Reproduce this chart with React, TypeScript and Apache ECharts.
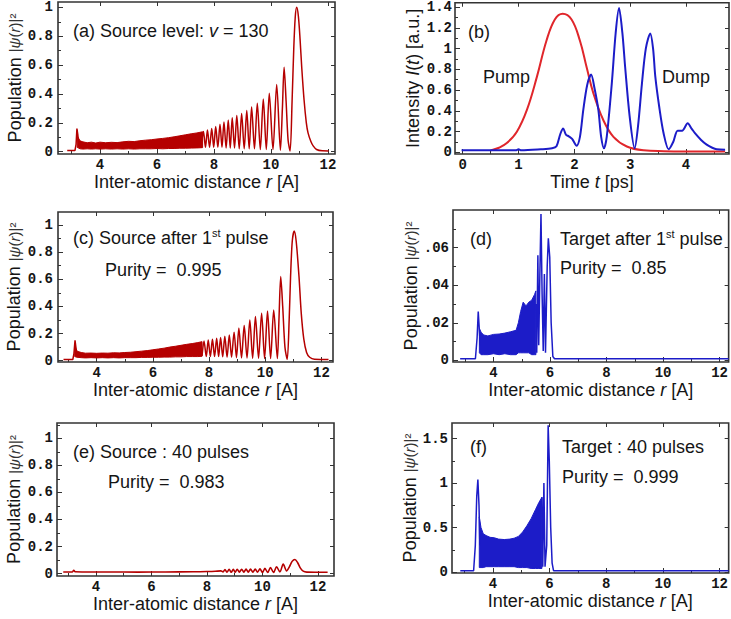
import React, { useEffect, useRef } from "react";
import * as echarts from "echarts";

// ---------- tick labels ----------
const R_TICKS = [4, 6, 8, 10, 12];
const POP_TICKS = [0, 0.2, 0.4, 0.6, 0.8, 1];
const B_X_TICKS = [0, 1, 2, 3, 4];
const B_Y_TICKS = [0, 0.2, 0.4, 0.6, 0.8, 1, 1.2, 1.4];
const D_Y_TICKS = [0, 0.02, 0.04, 0.06];
const F_Y_TICKS = [0, 0.5, 1, 1.5];

// ---------- (a) source level v = 130 ----------
const A_EDGE = [[2.85, 0.008], [3.12, 0.008], [3.16, 0.05], [3.19, 0.16], [3.22, 0.12], [3.25, 0.06], [3.3, 0.05]];
// [r, lower envelope, upper envelope] of the unresolved fast oscillation
const A_BAND = [
  [3.2, 0.03, 0.11], [3.3, 0.02, 0.075], [3.4, 0.018, 0.068], [3.55, 0.02, 0.062], [3.7, 0.018, 0.066],
  [3.85, 0.02, 0.06], [4.0, 0.018, 0.066], [4.2, 0.02, 0.062], [4.4, 0.018, 0.065], [4.6, 0.02, 0.063],
  [4.8, 0.018, 0.068], [5.0, 0.02, 0.072], [5.2, 0.018, 0.07], [5.4, 0.02, 0.076], [5.6, 0.02, 0.08],
  [5.8, 0.02, 0.083], [6.0, 0.022, 0.088], [6.2, 0.02, 0.092], [6.4, 0.022, 0.097], [6.6, 0.022, 0.103],
  [6.8, 0.024, 0.11], [7.0, 0.024, 0.117], [7.2, 0.025, 0.124], [7.4, 0.026, 0.13], [7.6, 0.028, 0.138],
];
const A_OSC = [
  [7.55, 0.03], [7.63, 0.14], [7.7, 0.03], [7.77, 0.15], [7.845, 0.03], [7.92, 0.16], [7.99, 0.03], [8.06, 0.175],
  [8.135, 0.03], [8.21, 0.19], [8.28, 0.03], [8.35, 0.205], [8.425, 0.025], [8.5, 0.22], [8.57, 0.025], [8.64, 0.235],
  [8.72, 0.025], [8.8, 0.25], [8.885, 0.02], [8.97, 0.265], [9.06, 0.02], [9.15, 0.285], [9.235, 0.02], [9.32, 0.31],
  [9.42, 0.02], [9.52, 0.335], [9.625, 0.015], [9.73, 0.365], [9.835, 0.015], [9.94, 0.405], [10.07, 0.015],
  [10.2, 0.465], [10.33, 0.01], [10.4, 0.3], [10.46, 0.585], [10.53, 0.35], [10.6, 0.08], [10.67, 0.005],
  [10.74, 0.35], [10.8, 0.72], [10.85, 0.93], [10.9, 1.0], [10.96, 0.94], [11.02, 0.78], [11.08, 0.58],
  [11.16, 0.36], [11.24, 0.2], [11.3, 0.13], [11.4, 0.07], [11.48, 0.04], [11.6, 0.015], [11.8, 0.006], [12.02, 0.005],
];

// ---------- (b) pulses ----------
const PUMP = [
  [0.5, 0.02], [0.65, 0.045], [0.79, 0.09], [0.97, 0.2], [1.15, 0.41], [1.33, 0.73], [1.5, 1.075], [1.65, 1.28],
  [1.79, 1.335], [1.95, 1.28], [2.1, 1.075], [2.22, 0.82], [2.34, 0.57], [2.52, 0.31], [2.7, 0.15], [2.94, 0.057],
  [3.24, 0.02], [3.6, 0.012], [4.0, 0.01], [4.7, 0.01],
];
const DUMP = [
  [-0.02, 0.02], [0.5, 0.02], [0.95, 0.02], [1.0, 0.03], [1.05, 0.02], [1.4, 0.03], [1.6, 0.04], [1.68, 0.06],
  [1.75, 0.18], [1.8, 0.23], [1.85, 0.17], [1.9, 0.155], [1.96, 0.13], [2.04, 0.064], [2.1, 0.15], [2.16, 0.41],
  [2.23, 0.65], [2.3, 0.75], [2.36, 0.62], [2.43, 0.41], [2.48, 0.15], [2.53, 0.04], [2.58, 0.15], [2.67, 0.66],
  [2.74, 1.15], [2.8, 1.39], [2.86, 1.15], [2.91, 0.82], [2.99, 0.35], [3.08, 0.04], [3.14, 0.25], [3.21, 0.66],
  [3.28, 1.0], [3.36, 1.145], [3.41, 1.0], [3.45, 0.73], [3.52, 0.44], [3.6, 0.18], [3.69, 0.03], [3.77, 0.1],
  [3.85, 0.21], [3.93, 0.21], [4.03, 0.28], [4.1, 0.23], [4.16, 0.185], [4.27, 0.12], [4.37, 0.075], [4.47, 0.045],
  [4.55, 0.03], [4.7, 0.025],
];

// ---------- (c) source after 1st pulse ----------
const C_EDGE = [[2.82, 0.008], [3.15, 0.008], [3.19, 0.05], [3.23, 0.15], [3.26, 0.1], [3.3, 0.05]];
const C_BAND = [
  [3.22, 0.03, 0.1], [3.3, 0.025, 0.07], [3.45, 0.022, 0.06], [3.6, 0.02, 0.055], [3.8, 0.022, 0.056],
  [4.0, 0.02, 0.054], [4.2, 0.022, 0.056], [4.4, 0.02, 0.055], [4.6, 0.022, 0.058], [4.8, 0.02, 0.057],
  [5.0, 0.022, 0.06], [5.2, 0.022, 0.062], [5.4, 0.022, 0.066], [5.6, 0.024, 0.07], [5.8, 0.024, 0.074],
  [6.0, 0.025, 0.08], [6.2, 0.025, 0.086], [6.4, 0.026, 0.092], [6.6, 0.026, 0.1], [6.8, 0.028, 0.106],
  [7.0, 0.028, 0.113], [7.2, 0.03, 0.12], [7.4, 0.03, 0.126], [7.6, 0.03, 0.133], [7.75, 0.032, 0.14],
];
const C_OSC = [
  [7.75, 0.035], [7.82, 0.145], [7.9, 0.03], [7.97, 0.152], [8.045, 0.03], [8.12, 0.157], [8.195, 0.03], [8.27, 0.165],
  [8.34, 0.03], [8.41, 0.17], [8.485, 0.028], [8.56, 0.18], [8.64, 0.025], [8.72, 0.19], [8.8, 0.025], [8.89, 0.21],
  [8.975, 0.022], [9.06, 0.24], [9.155, 0.02], [9.25, 0.26], [9.35, 0.02], [9.45, 0.3], [9.55, 0.018], [9.65, 0.325],
  [9.76, 0.018], [9.87, 0.35], [9.975, 0.015], [10.08, 0.366], [10.19, 0.015], [10.3, 0.373], [10.43, 0.015],
  [10.49, 0.32], [10.55, 0.62], [10.62, 0.4], [10.7, 0.1], [10.78, 0.01], [10.85, 0.3], [10.9, 0.62], [10.96, 0.88],
  [11.03, 0.955], [11.1, 0.88], [11.2, 0.62], [11.28, 0.35], [11.37, 0.16], [11.47, 0.06], [11.58, 0.025],
  [11.75, 0.01], [12.25, 0.008],
];

// ---------- (d) target after 1st pulse ----------
const D_EDGE = [[2.82, 0.0008], [3.36, 0.0008], [3.42, 0.012], [3.46, 0.026], [3.5, 0.016], [3.53, 0.008]];
const D_BAND = [
  [3.5, 0.004, 0.017], [3.56, 0.003, 0.015], [3.65, 0.003, 0.0135], [3.8, 0.003, 0.013], [4.0, 0.0035, 0.0138],
  [4.2, 0.003, 0.014], [4.4, 0.0035, 0.0145], [4.6, 0.003, 0.0152], [4.8, 0.003, 0.016], [4.88, 0.004, 0.02],
  [4.96, 0.004, 0.026], [5.05, 0.004, 0.031], [5.15, 0.004, 0.029], [5.25, 0.004, 0.031], [5.35, 0.003, 0.032],
  [5.45, 0.003, 0.035], [5.5, 0.003, 0.037],
];
const D_SPIKES = [
  [5.5, 0.03], [5.53, 0.004], [5.57, 0.056], [5.6, 0.008], [5.64, 0.045], [5.68, 0.078], [5.72, 0.035],
  [5.76, 0.005], [5.8, 0.046], [5.84, 0.004], [5.9, 0.05], [5.94, 0.065], [5.99, 0.055], [6.04, 0.02],
  [6.1, 0.002], [6.16, 0.0008], [12.32, 0.0008],
];

// ---------- (e) source after 40 pulses ----------
const E_LINE = [
  [2.82, 0.012], [3.15, 0.012], [3.2, 0.025], [3.25, 0.013], [3.5, 0.012], [4.5, 0.012], [5.5, 0.011], [6.5, 0.012],
  [7.5, 0.013], [8.0, 0.015], [8.3, 0.017], [8.5, 0.02], [8.58, 0.012], [8.65, 0.03], [8.72, 0.01], [8.8, 0.031],
  [8.875, 0.01], [8.95, 0.031], [9.02, 0.01], [9.09, 0.032], [9.17, 0.01], [9.25, 0.032], [9.33, 0.01], [9.41, 0.033],
  [9.49, 0.01], [9.57, 0.033], [9.655, 0.01], [9.74, 0.034], [9.825, 0.01], [9.91, 0.035], [10.0, 0.008],
  [10.09, 0.038], [10.19, 0.008], [10.29, 0.045], [10.4, 0.008], [10.51, 0.05], [10.63, 0.012], [10.75, 0.07],
  [10.87, 0.02], [10.97, 0.05], [11.07, 0.09], [11.17, 0.104], [11.27, 0.08], [11.37, 0.04], [11.47, 0.018],
  [11.6, 0.011], [11.9, 0.01], [12.35, 0.01],
];

// ---------- (f) target after 40 pulses ----------
const F_EDGE = [[2.85, 0.015], [3.32, 0.015], [3.38, 0.3], [3.43, 0.85], [3.47, 1.04], [3.51, 0.75], [3.54, 0.3]];
const F_BAND = [
  [3.52, 0.05, 0.62], [3.58, 0.05, 0.5], [3.66, 0.05, 0.43], [3.76, 0.06, 0.41], [3.9, 0.06, 0.39],
  [4.05, 0.06, 0.385], [4.2, 0.06, 0.37], [4.4, 0.06, 0.365], [4.6, 0.06, 0.37], [4.75, 0.06, 0.38],
  [4.9, 0.05, 0.4], [5.05, 0.05, 0.45], [5.2, 0.05, 0.52], [5.35, 0.04, 0.6], [5.5, 0.04, 0.7],
  [5.62, 0.04, 0.78], [5.73, 0.04, 0.84],
];
const F_SPIKES = [
  [5.73, 0.84], [5.76, 0.06], [5.8, 1.0], [5.84, 0.06], [5.9, 0.3], [5.95, 1.65], [5.99, 1.25], [6.04, 0.5],
  [6.09, 0.1], [6.14, 0.015], [12.32, 0.015],
];

// ---------- styles ----------
const SANS = '"Liberation Sans", Arial, Helvetica, sans-serif';
const MONO = '"Liberation Mono", "Courier New", monospace';
const INK = "#151515";
const FRAME = "#333333";
const DARK_RED = "#b50000";
const PUMP_RED = "#e0262b";
const BLUE = "#1c1cc8";

const R_NAME = "Inter-atomic distance {i|r} [A]";
const POP_NAME = "Population {s|\u007C}{si|\u03C8}{s|(}{si|r}{s|)\u007C\u00B2}";

const nameStyle = {
  fontSize: 18,
  fontFamily: SANS,
  color: INK,
  rich: {
    i: { fontSize: 18, fontFamily: SANS, fontStyle: "italic", color: INK },
    s: { fontSize: 15, fontFamily: SANS, color: "#333" },
    si: { fontSize: 15, fontFamily: SANS, fontStyle: "italic", color: "#333" },
  },
};

function minorOf(ticks: number[], min: number, max: number) {
  const step = (ticks[1] - ticks[0]) / 2;
  const out: number[] = [];
  const all = [ticks[0] - (ticks[1] - ticks[0]), ...ticks, ticks[ticks.length - 1] + (ticks[1] - ticks[0])];
  for (let i = 0; i < all.length - 1; i++) {
    const v = all[i] + step;
    if (v > min && v < max) out.push(v);
  }
  return out;
}

type PanelCfg = {
  left: number; top: number; width: number; height: number;
  xMin: number; xMax: number; yMin: number; yMax: number;
  xTicks: number[]; yTicks: number[];
  xName: string; yName: string; xGap: number; yGap: number;
  yLabelMargin: number;
  yFmt?: (v: number) => string;
};

function axesFor(gi: number, p: PanelCfg) {
  const baseX = {
    gridIndex: gi, type: "value", min: p.xMin, max: p.xMax,
    splitLine: { show: false }, axisLine: { show: false, onZero: false },
  };
  const baseY = {
    gridIndex: gi, type: "value", min: p.yMin, max: p.yMax,
    splitLine: { show: false }, axisLine: { show: false, onZero: false },
  };
  const tick = (vals: number[], len: number) => ({
    show: true, inside: true, length: len, customValues: vals, lineStyle: { color: FRAME, width: 1 },
  });
  const lab = {
    fontFamily: MONO, fontWeight: "bold", fontSize: 14, color: INK,
  };
  const xAxes = [
    {
      ...baseX, position: "bottom",
      axisTick: tick(p.xTicks, 5),
      axisLabel: { ...lab, show: true, customValues: p.xTicks, margin: 4 },
      name: p.xName, nameLocation: "middle", nameGap: p.xGap, nameTextStyle: nameStyle,
    },
    { ...baseX, position: "bottom", axisTick: tick(minorOf(p.xTicks, p.xMin, p.xMax), 3), axisLabel: { show: false } },
    { ...baseX, position: "top", axisTick: tick(p.xTicks, 4), axisLabel: { show: false } },
  ];
  const yAxes = [
    {
      ...baseY, position: "left",
      axisTick: tick(p.yTicks, 5),
      axisLabel: {
        ...lab, show: true, customValues: p.yTicks, margin: p.yLabelMargin,
        formatter: p.yFmt ? p.yFmt : (v: number) => String(v),
      },
      name: p.yName, nameLocation: "middle", nameGap: p.yGap, nameTextStyle: nameStyle,
    },
    { ...baseY, position: "left", axisTick: tick(minorOf(p.yTicks, p.yMin, p.yMax), 3), axisLabel: { show: false } },
    { ...baseY, position: "right", axisTick: tick(p.yTicks, 4), axisLabel: { show: false } },
  ];
  return { xAxes, yAxes };
}

function lineSeries(gi: number, data: number[][], color: string, width: number, smooth: number | boolean) {
  return {
    type: "line", xAxisIndex: gi * 3, yAxisIndex: gi * 3, data,
    showSymbol: false, symbol: "none", smooth,
    lineStyle: { color, width }, z: 3,
  };
}

function bandSeries(gi: number, rows: number[][], color: string) {
  return {
    type: "custom", coordinateSystem: "cartesian2d", xAxisIndex: gi * 3, yAxisIndex: gi * 3,
    data: rows, encode: { x: 0, y: [1, 2] }, z: 2,
    renderItem: (params: any, api: any) => {
      if (params.dataIndex !== 0) return null;
      const top = rows.map((r) => api.coord([r[0], r[2]]));
      const bot = rows.slice().reverse().map((r) => api.coord([r[0], r[1]]));
      return {
        type: "polygon",
        shape: { points: top.concat(bot) },
        style: { fill: color, stroke: color, lineWidth: 1 },
      };
    },
  };
}

const PANELS: PanelCfg[] = [
  { // (a)
    left: 58, top: 2, width: 277, height: 152, xMin: 2.526, xMax: 12.246, yMin: -0.016, yMax: 1.037,
    xTicks: R_TICKS, yTicks: POP_TICKS, xName: R_NAME, yName: POP_NAME, xGap: 15, yGap: 34, yLabelMargin: 5,
  },
  { // (b)
    left: 455, top: 2, width: 274, height: 152, xMin: -0.138, xMax: 4.77, yMin: -0.015, yMax: 1.441,
    xTicks: B_X_TICKS, yTicks: B_Y_TICKS, xName: "Time {i|t} [ps]", yName: "Intensity {i|I}({i|t}) [a.u.]",
    xGap: 15, yGap: 33, yLabelMargin: 3,
  },
  { // (c)
    left: 58, top: 212, width: 275, height: 150, xMin: 2.624, xMax: 12.41, yMin: -0.01, yMax: 1.096,
    xTicks: R_TICKS, yTicks: POP_TICKS, xName: R_NAME, yName: POP_NAME, xGap: 16, yGap: 35, yLabelMargin: 5,
  },
  { // (d)
    left: 453, top: 210, width: 276, height: 152, xMin: 2.567, xMax: 12.32, yMin: -0.0009, yMax: 0.0801,
    xTicks: R_TICKS, yTicks: D_Y_TICKS, xName: R_NAME, yName: POP_NAME, xGap: 17, yGap: 33, yLabelMargin: 4,
    yFmt: (v: number) => (v === 0 ? "0" : String(v).replace(/^0/, "")),
  },
  { // (e)
    left: 57, top: 423, width: 277, height: 153, xMin: 2.595, xMax: 12.58, yMin: -0.018, yMax: 1.113,
    xTicks: R_TICKS, yTicks: POP_TICKS, xName: R_NAME, yName: POP_NAME, xGap: 17, yGap: 34, yLabelMargin: 4,
  },
  { // (f)
    left: 452, top: 423, width: 277, height: 150, xMin: 2.557, xMax: 12.32, yMin: -0.011, yMax: 1.675,
    xTicks: R_TICKS, yTicks: F_Y_TICKS, xName: R_NAME, yName: POP_NAME, xGap: 18, yGap: 33, yLabelMargin: 4,
  },
];

const LBL = {
  fontSize: 18, fontFamily: SANS, fill: INK, verticalAlign: "middle", lineHeight: 22,
  rich: {
    i: { fontSize: 18, fontFamily: SANS, fontStyle: "italic", fill: INK, lineHeight: 22 },
    sup: { fontSize: 11, fontFamily: SANS, fill: INK, lineHeight: 22, verticalAlign: "top" },
  },
};

function label(x: number, y: number, text: string) {
  return { type: "text", x, y, silent: true, z: 10, style: { ...LBL, text } };
}

export default function App() {
  const ref = useRef<HTMLDivElement>(null);
  useEffect(() => {
    if (!ref.current) return;
    const chart = echarts.init(ref.current, null, { renderer: "svg" });
    const xAxis: any[] = [];
    const yAxis: any[] = [];
    const grid: any[] = [];
    PANELS.forEach((p, gi) => {
      grid.push({
        left: p.left, top: p.top, width: p.width, height: p.height, show: true,
        borderColor: FRAME, borderWidth: 1.6, backgroundColor: "transparent", containLabel: false,
      });
      const a = axesFor(gi, p);
      xAxis.push(...a.xAxes);
      yAxis.push(...a.yAxes);
    });
    const series: any[] = [
      bandSeries(0, A_BAND, DARK_RED),
      lineSeries(0, A_EDGE, DARK_RED, 1.5, false),
      lineSeries(0, A_OSC, DARK_RED, 1.5, 0.3),
      lineSeries(1, PUMP, PUMP_RED, 2, 0.4),
      lineSeries(1, DUMP, BLUE, 2, 0.3),
      bandSeries(2, C_BAND, DARK_RED),
      lineSeries(2, C_EDGE, DARK_RED, 1.5, false),
      lineSeries(2, C_OSC, DARK_RED, 1.5, 0.3),
      bandSeries(3, D_BAND, BLUE),
      lineSeries(3, D_EDGE, BLUE, 1.5, false),
      lineSeries(3, D_SPIKES, BLUE, 1.5, false),
      lineSeries(4, E_LINE, DARK_RED, 1.6, 0.3),
      bandSeries(5, F_BAND, BLUE),
      lineSeries(5, F_EDGE, BLUE, 1.5, false),
      lineSeries(5, F_SPIKES, BLUE, 1.5, false),
    ];
    const graphic = [
      label(73, 31, "(a) Source level: {i|v} = 130"),
      label(468, 32, "(b)"),
      label(483, 77, "Pump"),
      label(662, 77, "Dump"),
      label(73, 238, "(c) Source after 1{sup|st} pulse"),
      label(105, 270, "Purity =  0.995"),
      label(470, 239, "(d)"),
      label(560, 239, "Target after 1{sup|st} pulse"),
      label(560, 268, "Purity =  0.85"),
      label(73, 452, "(e) Source : 40 pulses"),
      label(108, 482, "Purity =  0.983"),
      label(470, 447, "(f)"),
      label(562, 447, "Target : 40 pulses"),
      label(562, 477, "Purity =  0.999"),
    ];
    chart.setOption({
      animation: false,
      backgroundColor: "#ffffff",
      grid, xAxis, yAxis, series, graphic,
    });
    return () => chart.dispose();
  }, []);
  return (
    <div
      ref={ref}
      style={{ position: "fixed", left: 0, top: 0, width: 731, height: 619, background: "#fff" }}
    />
  );
}
